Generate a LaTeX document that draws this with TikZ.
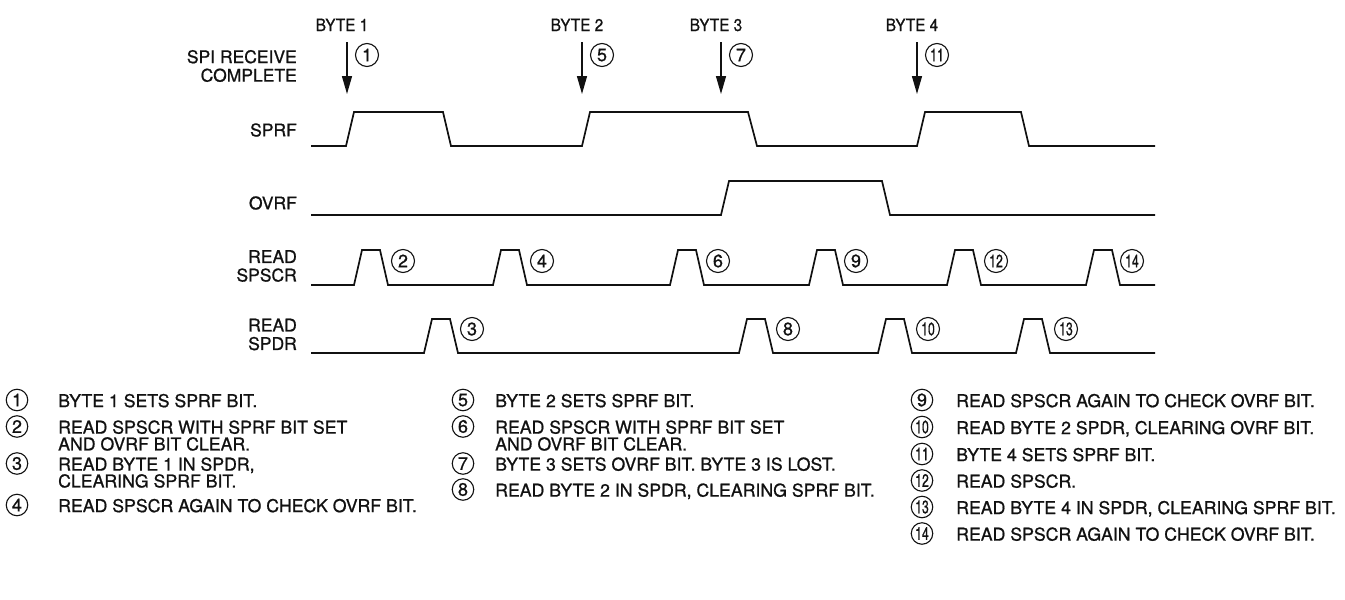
\documentclass[tikz,border=0pt]{standalone}
\usepackage{fontspec}
\setmainfont[FakeBold=0.9]{TeX Gyre Heros}
\newfontfamily\narrowfont[FakeStretch=0.9,FakeBold=0.9]{TeX Gyre Heros}
\usepackage{graphicx}
\usepackage{tikz}
\usetikzlibrary{arrows.meta,positioning}
\definecolor{ink}{HTML}{111111}
\newcommand{\cnum}[1]{\ifnum#1>9 \scalebox{.68}[1]{#1}\else#1\fi}
\tikzset{
  >={Triangle[length=18pt,width=10pt]},
  recv/.style={->,line width=1.4pt,draw=ink},
  wave/.style={line width=1.7pt,draw=ink,line join=miter},
  signame/.style={anchor=east,align=right,inner sep=0pt,text=ink,font=\fontsize{17.5}{18.5}\selectfont},
  bytelbl/.style={anchor=base,inner sep=0pt,text=ink,font=\narrowfont\fontsize{17}{18}\selectfont},
  numcirc/.style={circle,draw=ink,line width=1.1pt,minimum size=23pt,inner sep=0pt,text=ink,font=\fontsize{18}{18}\selectfont},
  legcirc/.style={numcirc,minimum size=21.5pt},
  legtxt/.style={anchor=north west,align=left,inner sep=0pt,text=ink,font=\fontsize{17.7}{16.8}\selectfont}
}

\begin{document}
\begin{tikzpicture}[x=1pt,y=-1pt]
  \useasboundingbox (0,0) rectangle (1345,600);
  % signal names
  \node[signame] (lrecv) at (297,66) {SPI RECEIVE\\COMPLETE};
  \node[signame] (lsprf) at (297,130) {SPRF};
  \node[signame] (lovrf) at (297,203) {OVRF};
  \node[signame] (lspscr) at (297,266) {READ\\SPSCR};
  \node[signame] (lspdr) at (297,334.5) {READ\\SPDR};
  % receive complete arrows
  \foreach \n/\x/\c in {1/347/1,2/582/5,3/721/7,4/917/11} {
    \node[bytelbl] (byte\n) at (\x-5,31) {BYTE \n};
    \coordinate (rs\n) at (\x,42);
    \coordinate (re\n) at (\x,94);
    \draw[recv] (rs\n) -- (re\n);
    \node[numcirc] (c\c) at (\x+20,55) {\cnum{\c}};
  }
  % waveforms
  \draw[wave] (311,146) -- (346,146) -- (354,112) -- (443,112) -- (451,146) -- (582,146) -- (590,112)
    -- (748,112) -- (757,146) -- (917,146) -- (925,112) -- (1021,112) -- (1029,146) -- (1155,146);
  \draw[wave] (311,215) -- (721,215) -- (729,181) -- (882,181) -- (890,215) -- (1155,215);
  \draw[wave] (311,285) \foreach \x in {354,493,670,809,947,1086} { -- (\x,285) -- ++(8,-35) -- ++(18,0) -- ++(8,35) } -- (1155,285);
  \draw[wave] (311,353) \foreach \x in {424,739,878,1016} { -- (\x,353) -- ++(8,-34) -- ++(18,0) -- ++(8,34) } -- (1155,353);
  \foreach \x/\c in {403/2,542/4,718/6,856/9,996/12,1132/14}
    \node[numcirc] (c\c) at (\x,261) {\cnum{\c}};
  \foreach \x/\c in {472/3,788/8,928/10,1066/13}
    \node[numcirc] (c\c) at (\x,329) {\cnum{\c}};
  % legend
  \foreach \c/\y/\t in {1/400/{BYTE 1 SETS SPRF BIT.},
      2/426.5/{READ SPSCR WITH SPRF BIT SET\\AND OVRF BIT CLEAR.},
      3/463.5/{READ BYTE 1 IN SPDR,\\CLEARING SPRF BIT.},
      4/505/{READ SPSCR AGAIN TO CHECK OVRF BIT.}} {
    \node[legcirc] (n\c) at (17,\y) {\cnum{\c}};
    \node[legtxt] (t\c) at (58,\y-6.3) {\t};
  }
  \foreach \c/\y/\t in {5/400/{BYTE 2 SETS SPRF BIT.},
      6/426.5/{READ SPSCR WITH SPRF BIT SET\\AND OVRF BIT CLEAR.},
      7/463.5/{BYTE 3 SETS OVRF BIT. BYTE 3 IS LOST.},
      8/489.5/{READ BYTE 2 IN SPDR, CLEARING SPRF BIT.}} {
    \node[legcirc] (n\c) at (463,\y) {\cnum{\c}};
    \node[legtxt] (t\c) at (495,\y-6.3) {\t};
  }
  \foreach \c/\y/\t in {9/400/{READ SPSCR AGAIN TO CHECK OVRF BIT.},
      10/427/{READ BYTE 2 SPDR, CLEARING OVRF BIT.},
      11/454/{BYTE 4 SETS SPRF BIT.},
      12/480.5/{READ SPSCR.},
      13/507/{READ BYTE 4 IN SPDR, CLEARING SPRF BIT.},
      14/533.5/{READ SPSCR AGAIN TO CHECK OVRF BIT.}} {
    \node[legcirc] (n\c) at (922,\y) {\cnum{\c}};
    \node[legtxt] (t\c) at (956,\y-6.3) {\t};
  }
\end{tikzpicture}
\end{document}
